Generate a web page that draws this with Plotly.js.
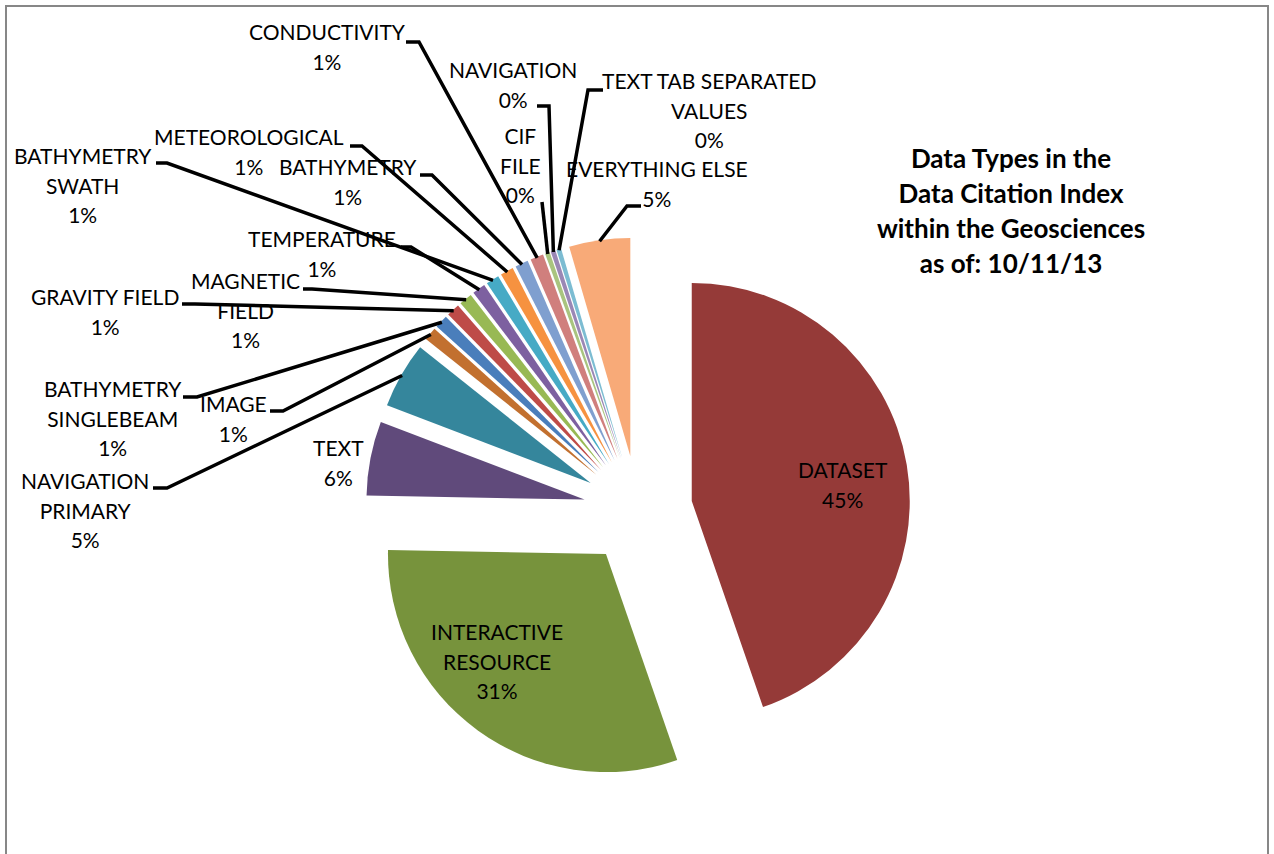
<!DOCTYPE html>
<html><head><meta charset="utf-8">
<script src="https://cdn.plot.ly/plotly-3.0.1.min.js"></script>
<style>html,body{margin:0;padding:0;background:#fff}#chart{width:1274px;height:854px}</style>
</head><body><div id="chart"></div>
<script>
// ---- data ----
const labels = ['DATASET', 'INTERACTIVE RESOURCE', 'TEXT', 'NAVIGATION PRIMARY', 'IMAGE',
  'BATHYMETRY SINGLEBEAM', 'GRAVITY FIELD', 'MAGNETIC FIELD', 'TEMPERATURE', 'BATHYMETRY SWATH',
  'METEOROLOGICAL', 'BATHYMETRY', 'CONDUCTIVITY', 'CIF FILE', 'NAVIGATION',
  'TEXT TAB SEPARATED VALUES', 'EVERYTHING ELSE'];
const values = [44.7, 30.6, 5.5, 4.9, 0.97, 0.97, 0.97, 0.97, 0.97, 0.97, 0.97, 0.97, 0.97,
  0.35, 0.35, 0.35, 4.52];
// how each category label wraps in the chart
const labelLines = [['DATASET'], ['INTERACTIVE', 'RESOURCE'], ['TEXT'], ['NAVIGATION', 'PRIMARY'],
  ['IMAGE'], ['BATHYMETRY', 'SINGLEBEAM'], ['GRAVITY FIELD'], ['MAGNETIC', 'FIELD'], ['TEMPERATURE'],
  ['BATHYMETRY', 'SWATH'], ['METEOROLOGICAL'], ['BATHYMETRY'], ['CONDUCTIVITY'], ['CIF', 'FILE'],
  ['NAVIGATION'], ['TEXT TAB SEPARATED', 'VALUES'], ['EVERYTHING ELSE']];
const titleLines = ['Data Types in the', 'Data Citation Index', 'within the Geosciences', 'as of: 10/11/13'];

// ---- style / layout ----
const colors = ['#953A38', '#77933C', '#604A7B', '#35869C', '#C2702F', '#4A7EBB', '#BE4B48',
  '#98B954', '#7D60A0', '#46AAC5', '#F69240', '#7F9FCF', '#D07F7D', '#A9C47F', '#9A87B5',
  '#7CBCD2', '#F8AA78'];
const W = 1274, H = 854;
const PULL = 0.25;
const domX = [365.5 / W, 910.5 / W];
const domY = [1 - 782.5 / H, 1 - 237.5 / H];
// label block centres (px) and leader start/elbow (px)
const labelPos = [[843, 485], [497, 661], [338, 462], [85, 510], [233, 418], [113, 418],
  [105, 311], [246, 310], [322, 253], [83, 185], [249, 152], [348, 181], [327, 47], [520, 165],
  [513, 84], [709, 110], [657, 183]];
const leaders = [null, null, null, [153, 488, 167], [270, 411, 283], [183, 397, 197],
  [182, 304, 195], [303, 289, 312], [401, 247, 411], [156, 163, 167], [350, 146, 362],
  [420, 175, 432], [406, 42, 419], [542, 202, 542], [537, 106, 549], [603, 90, 588], [641, 206, 627]];

const total = values.reduce((a, b) => a + b, 0);
const pct = values.map(v => Math.round(v / total * 100) + '%');

// pie geometry as plotly computes it (margins are 0)
const cx = W * (domX[0] + domX[1]) / 2;
const cy = H * (1 - (domY[0] + domY[1]) / 2);
const r = Math.min(W * (domX[1] - domX[0]), H * (domY[1] - domY[0])) / 2 / (1 + PULL);

const px = x => x / W, py = y => 1 - y / H;
const sp = t => '<span style="font-size:21px">' + t + '</span>';

const annotations = labels.map((l, i) => ({
  xref: 'paper', yref: 'paper', x: px(labelPos[i][0]), y: py(labelPos[i][1]),
  xanchor: 'center', yanchor: 'middle', align: 'center', showarrow: false,
  text: labelLines[i].concat([pct[i]]).map(sp).join('<br>'),
  font: {family: 'Lato, Carlito, sans-serif', size: 22.7, color: '#000'}
}));

const shapes = [{
  type: 'rect', xref: 'paper', yref: 'paper', x0: px(6), x1: px(1268), y0: -0.05, y1: py(6),
  line: {color: '#878787', width: 2}, fillcolor: 'rgba(0,0,0,0)', layer: 'below'
}];
let cum = 0;
values.forEach((v, i) => {
  const mid = (cum + v / 2) / total * 2 * Math.PI;
  cum += v;
  const lead = leaders[i];
  if (!lead) return;
  const R = r * (1 + PULL) - 1;
  const ex = cx + R * Math.sin(mid), ey = cy - R * Math.cos(mid);
  shapes.push({
    type: 'path', xref: 'paper', yref: 'paper',
    path: `M ${px(lead[0])},${py(lead[1])} L ${px(lead[2])},${py(lead[1])} L ${px(ex)},${py(ey)}`,
    line: {color: '#000', width: 3.5}
  });
});

const trace = {
  type: 'pie', labels: labels, values: values, sort: false, direction: 'clockwise', rotation: 0,
  pull: values.map(() => PULL), marker: {colors: colors, line: {width: 0}},
  textinfo: 'none', hoverinfo: 'label+percent', showlegend: false,
  domain: {x: domX, y: domY}
};

const layout = {
  width: W, height: H, margin: {l: 0, r: 0, t: 0, b: 0},
  paper_bgcolor: '#fff', plot_bgcolor: '#fff', showlegend: false,
  title: {
    text: titleLines.map(t => '<span style="font-size:26px">' + t + '</span>').join('<br>'),
    x: 1011 / W, y: 1 - 168 / H, xref: 'container', yref: 'container',
    xanchor: 'center', yanchor: 'middle',
    font: {family: 'Lato, Carlito, sans-serif', size: 27, color: '#000', weight: 'bold'}
  },
  annotations: annotations, shapes: shapes
};

Plotly.newPlot('chart', [trace], layout, {displayModeBar: false, staticPlot: true});
</script>
</body></html>
